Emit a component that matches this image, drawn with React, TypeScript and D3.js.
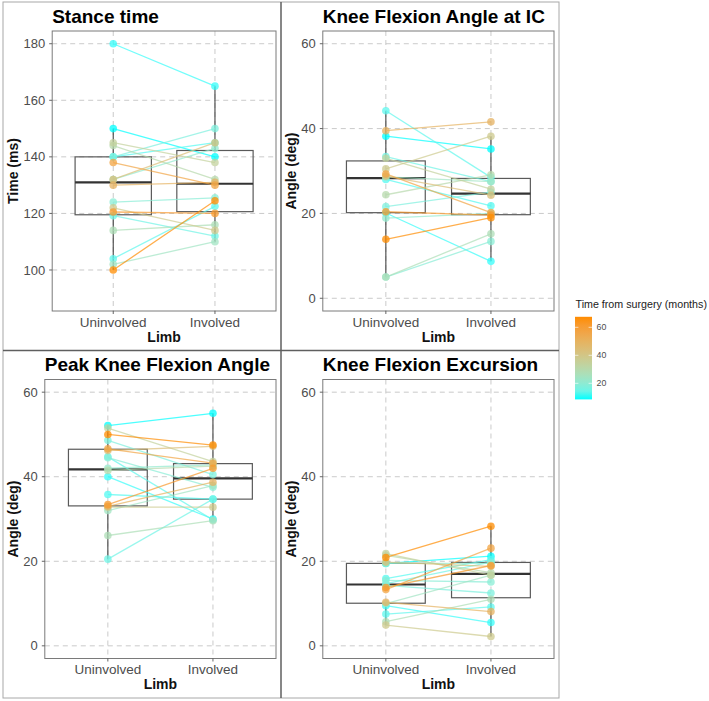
import React, { useEffect, useRef } from "react";
import * as d3 from "d3";

const limbs = ["Uninvolved", "Involved"];

// time from surgery (months), one entry per subject
const months = [8.5, 10, 12, 13, 15, 17, 19, 21, 24, 27, 30, 34, 38, 44, 50, 57, 62, 67.5];

const stanceUninvolved = [150, 180, 140, 104, 119.2, 140, 124, 132, 102, 114, 144, 145, 122, 132, 130, 138, 120.5, 100];
const stanceInvolved = [140, 165, 145, 122.5, 112, 150, 125.5, 143, 110, 116, 132, 138, 114, 145, 131, 130, 120, 124.5];

const icUninvolved = [38.2, 20.1, 28.0, 44.2, 33.4, 21.6, 5.0, 18.9, 28.6, 5.0, 24.4, 33.0, 30.5, 28.8, 39.5, 29.3, 20.4, 13.9];
const icInvolved = [35.2, 8.7, 21.8, 28.5, 27.5, 25.0, 13.4, 20.0, 27.5, 15.2, 29.1, 25.7, 38.2, 24.3, 41.6, 20.2, 19.6, 19.0];

const peakUninvolved = [52.1, 40.0, 35.8, 44.7, 20.5, 48.6, 44.5, 42.0, 32.0, 26.1, 41.5, 51.5, 32.8, 46.2, 33.0, 46.6, 33.4, 50.0];
const peakInvolved = [55.0, 30.0, 34.7, 29.8, 34.7, 40.5, 37.5, 42.8, 37.9, 29.6, 42.5, 43.6, 32.8, 47.2, 38.7, 43.2, 42.0, 47.5];

const excUninvolved = [19.5, 9.5, 15.9, 7.5, 14.7, 14.3, 15.5, 19.5, 10.0, 5.7, 21.4, 21.8, 4.9, 19.8, 10.3, 13.3, 13.8, 20.9];
const excInvolved = [21.2, 5.5, 20.4, 9.2, 19.8, 12.5, 15.1, 19.5, 16.7, 11.0, 17.3, 16.7, 2.2, 18.8, 8.1, 23.1, 19.0, 28.3];

const stanceLimits = [90, 180];
const stanceTicks = [100, 120, 140, 160, 180];
const angleLimits = [0, 60];
const angleTicks = [0, 20, 40, 60];
const legendTicks = [20, 40, 60];

const panels = [
  { title: "Stance time", yLabel: "Time (ms)", uninvolved: stanceUninvolved, involved: stanceInvolved, limits: stanceLimits, ticks: stanceTicks, col: 0, row: 0 },
  { title: "Knee Flexion Angle at IC", yLabel: "Angle (deg)", uninvolved: icUninvolved, involved: icInvolved, limits: angleLimits, ticks: angleTicks, col: 1, row: 0 },
  { title: "Peak Knee Flexion Angle", yLabel: "Angle (deg)", uninvolved: peakUninvolved, involved: peakInvolved, limits: angleLimits, ticks: angleTicks, col: 0, row: 1 },
  { title: "Knee Flexion Excursion", yLabel: "Angle (deg)", uninvolved: excUninvolved, involved: excInvolved, limits: angleLimits, ticks: angleTicks, col: 1, row: 1 },
];

const colX = [3, 281, 559];
const rowY = [2, 350.5, 698];
const FONT = "'Liberation Sans', Arial, Helvetica, sans-serif";

function boxStats(values: number[]) {
  const s = values.slice().sort(d3.ascending);
  const q1 = d3.quantile(s, 0.25)!;
  const med = d3.quantile(s, 0.5)!;
  const q3 = d3.quantile(s, 0.75)!;
  const iqr = q3 - q1;
  const lo = d3.min(s.filter(v => v >= q1 - 1.5 * iqr))!;
  const hi = d3.max(s.filter(v => v <= q3 + 1.5 * iqr))!;
  return { q1, med, q3, lo, hi };
}

export default function App() {
  const ref = useRef<SVGSVGElement>(null);

  useEffect(() => {
    if (!ref.current) return;
    const svg = d3.select(ref.current);
    svg.selectAll("*").remove();
    svg.attr("font-family", FONT);

    const color = d3.scaleLinear<string>()
      .domain(d3.extent(months) as [number, number])
      .range(["#00FFFF", "#FF8C00"])
      .interpolate(d3.interpolateLab);

    panels.forEach(p => {
      const x0 = colX[p.col], x1 = colX[p.col + 1];
      const y0 = rowY[p.row], y1 = rowY[p.row + 1];
      const labelW = d3.max(p.ticks, t => String(t).length)! * 7.4;
      const left = x0 + 27 + labelW;
      const right = x1 - 5;
      const top = y0 + 29;
      const bottom = y1 - 39.5;

      const [lo, hi] = p.limits;
      const pad = (hi - lo) * 0.05;
      const y = d3.scaleLinear().domain([lo - pad, hi + pad]).range([bottom, top]);
      const x = d3.scalePoint().domain(limbs).range([left, right]).padding(0.6);
      const boxW = x.step() * 0.75;

      const g = svg.append("g");

      // dashed grid
      g.selectAll(".hgrid").data(p.ticks).enter().append("line")
        .attr("x1", left).attr("x2", right)
        .attr("y1", d => y(d)).attr("y2", d => y(d))
        .attr("stroke", "#c4c4c4").attr("stroke-width", 0.9).attr("stroke-dasharray", "5,4");
      g.selectAll(".vgrid").data(limbs).enter().append("line")
        .attr("x1", d => x(d)!).attr("x2", d => x(d)!)
        .attr("y1", top).attr("y2", bottom)
        .attr("stroke", "#c4c4c4").attr("stroke-width", 0.9).attr("stroke-dasharray", "5,4");

      // boxplots
      [p.uninvolved, p.involved].forEach((vals, i) => {
        const st = boxStats(vals);
        const cx = x(limbs[i])!;
        g.append("line").attr("x1", cx).attr("x2", cx).attr("y1", y(st.q3)).attr("y2", y(st.hi))
          .attr("stroke", "#444").attr("stroke-width", 1.1);
        g.append("line").attr("x1", cx).attr("x2", cx).attr("y1", y(st.q1)).attr("y2", y(st.lo))
          .attr("stroke", "#444").attr("stroke-width", 1.1);
        g.append("rect")
          .attr("x", cx - boxW / 2).attr("width", boxW)
          .attr("y", y(st.q3)).attr("height", y(st.q1) - y(st.q3))
          .attr("fill", "none").attr("stroke", "#5a5a5a").attr("stroke-width", 1.2);
        g.append("line").attr("x1", cx - boxW / 2).attr("x2", cx + boxW / 2)
          .attr("y1", y(st.med)).attr("y2", y(st.med))
          .attr("stroke", "#333").attr("stroke-width", 2.2);
      });

      // paired subject lines
      const pairs = months.map((m, i) => ({ m, u: p.uninvolved[i], v: p.involved[i] }));
      g.selectAll(".pair").data(pairs).enter().append("line")
        .attr("x1", x(limbs[0])!).attr("x2", x(limbs[1])!)
        .attr("y1", d => y(d.u)).attr("y2", d => y(d.v))
        .attr("stroke", d => color(d.m)).attr("stroke-width", 1.3).attr("stroke-opacity", 0.7);

      const pts = pairs.flatMap(d => [{ m: d.m, limb: limbs[0], val: d.u }, { m: d.m, limb: limbs[1], val: d.v }]);
      g.selectAll(".pt").data(pts).enter().append("circle")
        .attr("cx", d => x(d.limb)!).attr("cy", d => y(d.val)).attr("r", 3.8)
        .attr("fill", d => color(d.m)).attr("fill-opacity", 0.75);

      // panel border
      g.append("rect").attr("x", left).attr("y", top).attr("width", right - left).attr("height", bottom - top)
        .attr("fill", "none").attr("stroke", "#7a7a7a").attr("stroke-width", 1);

      // axes
      g.selectAll(".ytick").data(p.ticks).enter().append("line")
        .attr("x1", left - 3).attr("x2", left).attr("y1", d => y(d)).attr("y2", d => y(d))
        .attr("stroke", "#555").attr("stroke-width", 0.9);
      g.selectAll(".ylab").data(p.ticks).enter().append("text")
        .attr("x", left - 7).attr("y", d => y(d)).attr("dy", "0.35em")
        .attr("text-anchor", "end").attr("font-size", 13).attr("fill", "#4d4d4d")
        .text(d => d);
      g.selectAll(".xtick").data(limbs).enter().append("line")
        .attr("x1", d => x(d)!).attr("x2", d => x(d)!).attr("y1", bottom).attr("y2", bottom + 3)
        .attr("stroke", "#555").attr("stroke-width", 0.9);
      g.selectAll(".xlab").data(limbs).enter().append("text")
        .attr("x", d => x(d)!).attr("y", bottom + 15.5)
        .attr("text-anchor", "middle").attr("font-size", 13.5).attr("fill", "#4d4d4d")
        .text(d => d);

      g.append("text").attr("x", (left + right) / 2).attr("y", bottom + 30.5)
        .attr("text-anchor", "middle").attr("font-size", 14).attr("font-weight", "bold").attr("fill", "#111")
        .text("Limb");
      g.append("text")
        .attr("transform", `translate(${x0 + 15},${(top + bottom) / 2}) rotate(-90)`)
        .attr("text-anchor", "middle").attr("font-size", 14).attr("font-weight", "bold").attr("fill", "#111")
        .text(p.yLabel);
      g.append("text").attr("x", left).attr("y", top - 8.5)
        .attr("font-size", 19).attr("font-weight", "bold").attr("fill", "#000")
        .text(p.title);
    });

    // frame around the four panels
    svg.append("rect").attr("x", colX[0]).attr("y", rowY[0])
      .attr("width", colX[2] - colX[0]).attr("height", rowY[2] - rowY[0])
      .attr("fill", "none").attr("stroke", "#a8a8a8").attr("stroke-width", 1);
    svg.append("line").attr("x1", colX[1]).attr("x2", colX[1]).attr("y1", rowY[0]).attr("y2", rowY[2])
      .attr("stroke", "#5f5f5f").attr("stroke-width", 1.5);
    svg.append("line").attr("x1", colX[0]).attr("x2", colX[2]).attr("y1", rowY[1]).attr("y2", rowY[1])
      .attr("stroke", "#5f5f5f").attr("stroke-width", 1.5);

    // colour bar legend
    const [mMin, mMax] = d3.extent(months) as [number, number];
    const ly = d3.scaleLinear().domain([20, 60]).range([383.3, 327.3]);
    const barX = 575, barW = 17;
    const defs = svg.append("defs");
    const grad = defs.append("linearGradient").attr("id", "monthsGrad")
      .attr("x1", "0%").attr("x2", "0%").attr("y1", "100%").attr("y2", "0%");
    d3.range(0, 1.0001, 0.1).forEach(t => {
      grad.append("stop").attr("offset", `${t * 100}%`).attr("stop-color", color(mMin + t * (mMax - mMin)));
    });
    svg.append("rect").attr("x", barX).attr("y", ly(mMax)).attr("width", barW).attr("height", ly(mMin) - ly(mMax))
      .attr("fill", "url(#monthsGrad)");
    svg.selectAll(".ltickL").data(legendTicks).enter().append("line")
      .attr("x1", barX).attr("x2", barX + 3.4).attr("y1", d => ly(d)).attr("y2", d => ly(d))
      .attr("stroke", "#fff").attr("stroke-width", 0.8).attr("stroke-opacity", 0.8);
    svg.selectAll(".ltickR").data(legendTicks).enter().append("line")
      .attr("x1", barX + barW - 3.4).attr("x2", barX + barW).attr("y1", d => ly(d)).attr("y2", d => ly(d))
      .attr("stroke", "#fff").attr("stroke-width", 0.8).attr("stroke-opacity", 0.8);
    svg.selectAll(".llab").data(legendTicks).enter().append("text")
      .attr("x", barX + barW + 4.5).attr("y", d => ly(d)).attr("dy", "0.35em")
      .attr("font-size", 8.8).attr("fill", "#4d4d4d")
      .text(d => d);
    svg.append("text").attr("x", barX + 0.5).attr("y", 307.5)
      .attr("font-size", 10.7).attr("fill", "#222")
      .text("Time from surgery (months)");
  }, []);

  return (
    <svg
      ref={ref}
      width={709}
      height={701}
      style={{ position: "absolute", left: 0, top: 0, background: "#fff" }}
    />
  );
}
